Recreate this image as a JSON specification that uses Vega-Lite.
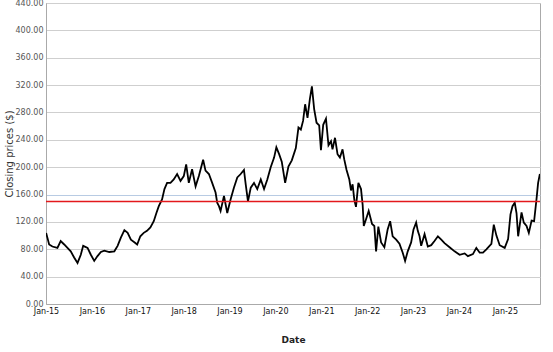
{
  "$schema": "https://vega.github.io/schema/vega-lite/v6.json",
  "width": 494,
  "height": 301,
  "autosize": {"type": "none"},
  "padding": {"left": 46, "top": 3, "right": 13, "bottom": 48},
  "background": "white",
  "config": {
    "font": "DejaVu Sans",
    "view": {"stroke": "#aaaaaa", "strokeWidth": 1},
    "axis": {"domainColor": "#aaaaaa", "ticks": false, "labelFont": "DejaVu Sans", "titleFont": "DejaVu Sans"}
  },
  "datasets": {
    "prices": [
      {"date": "2015-01-02", "close": 104},
      {"date": "2015-01-12", "close": 97},
      {"date": "2015-01-26", "close": 87},
      {"date": "2015-02-21", "close": 84},
      {"date": "2015-04-02", "close": 82},
      {"date": "2015-04-28", "close": 92},
      {"date": "2015-05-26", "close": 87},
      {"date": "2015-06-21", "close": 82},
      {"date": "2015-07-17", "close": 77},
      {"date": "2015-08-13", "close": 68},
      {"date": "2015-09-09", "close": 60},
      {"date": "2015-10-05", "close": 72},
      {"date": "2015-10-24", "close": 85},
      {"date": "2015-11-28", "close": 82},
      {"date": "2015-12-24", "close": 72},
      {"date": "2016-01-20", "close": 63},
      {"date": "2016-02-15", "close": 70},
      {"date": "2016-03-13", "close": 76},
      {"date": "2016-04-09", "close": 78},
      {"date": "2016-05-19", "close": 76},
      {"date": "2016-06-28", "close": 77},
      {"date": "2016-07-24", "close": 85},
      {"date": "2016-08-19", "close": 97},
      {"date": "2016-09-16", "close": 108},
      {"date": "2016-10-12", "close": 104},
      {"date": "2016-11-07", "close": 94},
      {"date": "2016-12-07", "close": 90},
      {"date": "2016-12-27", "close": 87},
      {"date": "2017-01-21", "close": 99},
      {"date": "2017-02-17", "close": 104},
      {"date": "2017-03-15", "close": 107},
      {"date": "2017-04-11", "close": 112},
      {"date": "2017-05-08", "close": 121},
      {"date": "2017-05-29", "close": 133},
      {"date": "2017-06-17", "close": 143},
      {"date": "2017-07-13", "close": 153},
      {"date": "2017-08-01", "close": 168},
      {"date": "2017-08-22", "close": 177},
      {"date": "2017-09-18", "close": 177},
      {"date": "2017-10-14", "close": 182},
      {"date": "2017-11-10", "close": 190},
      {"date": "2017-12-07", "close": 180},
      {"date": "2018-01-02", "close": 187},
      {"date": "2018-01-21", "close": 204},
      {"date": "2018-02-11", "close": 177},
      {"date": "2018-03-09", "close": 197},
      {"date": "2018-04-06", "close": 172},
      {"date": "2018-05-02", "close": 187},
      {"date": "2018-06-05", "close": 211},
      {"date": "2018-06-24", "close": 195},
      {"date": "2018-07-21", "close": 190},
      {"date": "2018-08-16", "close": 177},
      {"date": "2018-09-12", "close": 163},
      {"date": "2018-09-25", "close": 148},
      {"date": "2018-10-09", "close": 143},
      {"date": "2018-10-22", "close": 136},
      {"date": "2018-11-18", "close": 158},
      {"date": "2018-12-14", "close": 133},
      {"date": "2019-01-10", "close": 153},
      {"date": "2019-02-05", "close": 170},
      {"date": "2019-03-04", "close": 185},
      {"date": "2019-03-31", "close": 190},
      {"date": "2019-04-26", "close": 196},
      {"date": "2019-05-10", "close": 175},
      {"date": "2019-05-28", "close": 150},
      {"date": "2019-06-19", "close": 170},
      {"date": "2019-07-15", "close": 177},
      {"date": "2019-08-10", "close": 168},
      {"date": "2019-09-07", "close": 182},
      {"date": "2019-10-03", "close": 168},
      {"date": "2019-10-29", "close": 182},
      {"date": "2019-11-25", "close": 200},
      {"date": "2019-12-22", "close": 214},
      {"date": "2020-01-09", "close": 229},
      {"date": "2020-01-31", "close": 219},
      {"date": "2020-02-21", "close": 208},
      {"date": "2020-03-19", "close": 177},
      {"date": "2020-04-14", "close": 201},
      {"date": "2020-05-11", "close": 210},
      {"date": "2020-06-12", "close": 228},
      {"date": "2020-07-03", "close": 258},
      {"date": "2020-07-22", "close": 255},
      {"date": "2020-08-09", "close": 268},
      {"date": "2020-08-25", "close": 292},
      {"date": "2020-09-13", "close": 272},
      {"date": "2020-10-02", "close": 300},
      {"date": "2020-10-18", "close": 318},
      {"date": "2020-11-05", "close": 285},
      {"date": "2020-11-24", "close": 265},
      {"date": "2020-12-15", "close": 261},
      {"date": "2020-12-29", "close": 225},
      {"date": "2021-01-16", "close": 262},
      {"date": "2021-02-07", "close": 271},
      {"date": "2021-02-27", "close": 232},
      {"date": "2021-03-19", "close": 238},
      {"date": "2021-03-31", "close": 226},
      {"date": "2021-04-20", "close": 243},
      {"date": "2021-05-10", "close": 219},
      {"date": "2021-05-29", "close": 214},
      {"date": "2021-06-19", "close": 226},
      {"date": "2021-07-03", "close": 211},
      {"date": "2021-07-21", "close": 196},
      {"date": "2021-08-12", "close": 182},
      {"date": "2021-08-25", "close": 166},
      {"date": "2021-09-07", "close": 175},
      {"date": "2021-09-21", "close": 152},
      {"date": "2021-10-04", "close": 142},
      {"date": "2021-10-23", "close": 177},
      {"date": "2021-11-13", "close": 168},
      {"date": "2021-11-26", "close": 145},
      {"date": "2021-12-05", "close": 114},
      {"date": "2021-12-23", "close": 124},
      {"date": "2022-01-13", "close": 136},
      {"date": "2022-02-09", "close": 117},
      {"date": "2022-02-27", "close": 114},
      {"date": "2022-03-13", "close": 77},
      {"date": "2022-03-31", "close": 113},
      {"date": "2022-04-22", "close": 90},
      {"date": "2022-05-18", "close": 83},
      {"date": "2022-06-13", "close": 109},
      {"date": "2022-07-03", "close": 121},
      {"date": "2022-07-23", "close": 99},
      {"date": "2022-08-20", "close": 94},
      {"date": "2022-09-15", "close": 88},
      {"date": "2022-10-11", "close": 75},
      {"date": "2022-10-30", "close": 63},
      {"date": "2022-11-20", "close": 77},
      {"date": "2022-12-17", "close": 90},
      {"date": "2023-01-05", "close": 109},
      {"date": "2023-01-26", "close": 119},
      {"date": "2023-02-08", "close": 107},
      {"date": "2023-02-22", "close": 99},
      {"date": "2023-03-07", "close": 85},
      {"date": "2023-04-03", "close": 102},
      {"date": "2023-04-29", "close": 84},
      {"date": "2023-05-26", "close": 86},
      {"date": "2023-06-21", "close": 92},
      {"date": "2023-07-18", "close": 99},
      {"date": "2023-08-14", "close": 94},
      {"date": "2023-09-09", "close": 89},
      {"date": "2023-10-19", "close": 83},
      {"date": "2023-11-28", "close": 77},
      {"date": "2024-01-07", "close": 72},
      {"date": "2024-02-16", "close": 74},
      {"date": "2024-03-13", "close": 70},
      {"date": "2024-04-22", "close": 73},
      {"date": "2024-05-19", "close": 82},
      {"date": "2024-06-15", "close": 75},
      {"date": "2024-07-11", "close": 75},
      {"date": "2024-08-07", "close": 80},
      {"date": "2024-09-16", "close": 88},
      {"date": "2024-10-05", "close": 116},
      {"date": "2024-10-26", "close": 100},
      {"date": "2024-11-21", "close": 86},
      {"date": "2024-12-31", "close": 82},
      {"date": "2025-01-27", "close": 95},
      {"date": "2025-02-15", "close": 131},
      {"date": "2025-03-03", "close": 143},
      {"date": "2025-03-21", "close": 148},
      {"date": "2025-04-04", "close": 133},
      {"date": "2025-04-17", "close": 99},
      {"date": "2025-05-14", "close": 134},
      {"date": "2025-06-01", "close": 119},
      {"date": "2025-06-23", "close": 114},
      {"date": "2025-07-11", "close": 104},
      {"date": "2025-08-02", "close": 122},
      {"date": "2025-08-22", "close": 121},
      {"date": "2025-09-10", "close": 153},
      {"date": "2025-09-23", "close": 177},
      {"date": "2025-10-07", "close": 190}
    ],
    "threshold": [{"level": 150}]
  },
  "layer": [
    {
      "data": {"name": "prices"},
      "mark": {"type": "line", "color": "#000000", "strokeWidth": 1.8, "clip": true},
      "encoding": {
        "x": {
          "field": "date",
          "type": "temporal",
          "scale": {"domain": [{"year": 2015, "month": 1, "date": 1}, {"year": 2025, "month": 10, "date": 8}], "nice": false},
          "axis": {
            "title": "Date",
            "format": "%b-%y",
            "tickCount": {"interval": "year", "step": 1},
            "grid": false,
            "labelFontSize": 8,
            "labelColor": "#111111",
            "labelPadding": 3,
            "labelFlush": false,
            "labelOverlap": false,
            "titleFontSize": 9,
            "titleFontWeight": "bold",
            "titleColor": "#222222",
            "titlePadding": 20
          }
        },
        "y": {
          "field": "close",
          "type": "quantitative",
          "scale": {"domain": [0, 440], "nice": false},
          "axis": {
            "title": "Closing prices ($)",
            "values": [0, 40, 80, 120, 160, 200, 240, 280, 320, 360, 400, 440],
            "tickCount": 12,
            "format": ".2f",
            "grid": true,
            "gridColor": {"condition": {"test": "datum.value === 160", "value": "#b8cbe3"}, "value": "#cfcfcf"},
            "gridWidth": 1,
            "labelFontSize": 8,
            "labelColor": "#555555",
            "labelPadding": 3,
            "labelFlush": false,
            "labelOverlap": false,
            "titleFontSize": 10,
            "titleFontWeight": "normal",
            "titleColor": "#333333",
            "titleX": -32
          }
        }
      }
    },
    {
      "data": {"name": "threshold"},
      "mark": {"type": "rule", "color": "#e3191c", "strokeWidth": 1.5},
      "encoding": {
        "y": {"field": "level", "type": "quantitative"}
      }
    }
  ]
}
